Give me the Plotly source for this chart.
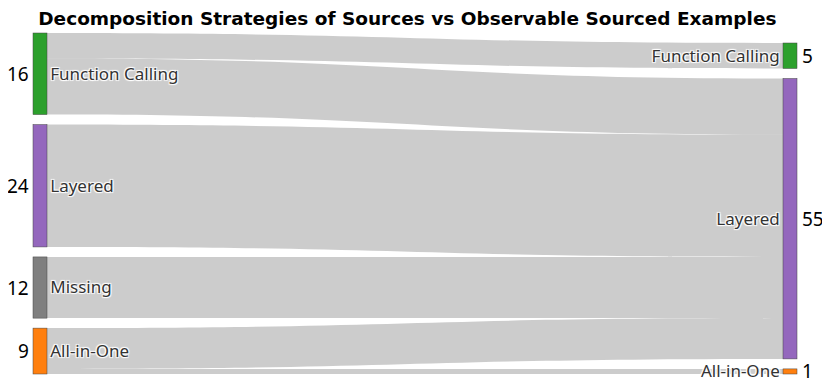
import plotly.graph_objects as go

sources = ["Function Calling", "Layered", "Missing", "All-in-One"]
targets = ["Function Calling", "Layered", "All-in-One"]
source_colors = ["#2ca02c", "#9467bd", "#7f7f7f", "#ff7f0e"]
target_colors = ["#2ca02c", "#9467bd", "#ff7f0e"]

link_source = ["Function Calling", "Function Calling", "Layered", "Missing", "All-in-One", "All-in-One"]
link_target = ["Function Calling", "Layered", "Layered", "Layered", "Layered", "All-in-One"]
link_value = [5, 11, 24, 12, 8, 1]

source_totals = [sum(v for s, v in zip(link_source, link_value) if s == n) for n in sources]
target_totals = [sum(v for t, v in zip(link_target, link_value) if t == n) for n in targets]

W, H = 830, 385
M = dict(l=25, r=41, t=25, b=19, autoexpand=False)
PAD = 10
plot_h = H - M["t"] - M["b"]
total = sum(link_value)
ky = (plot_h - (len(sources) - 1) * PAD) / total

labels = sources + targets
colors = source_colors + target_colors
idx_src = {n: i for i, n in enumerate(sources)}
idx_tgt = {n: i + len(sources) for i, n in enumerate(targets)}

fig = go.Figure(
    go.Sankey(
        arrangement="snap",
        node=dict(
            label=labels,
            color=colors,
            pad=PAD,
            thickness=14,
            line=dict(color="#444", width=0.5),
        ),
        link=dict(
            source=[idx_src[s] for s in link_source],
            target=[idx_tgt[t] for t in link_target],
            value=link_value,
            color="rgba(0,0,0,0.2)",
        ),
        textfont=dict(family="Noto Sans", size=17, color="#333"),
    )
)


def px_y(py):
    return 1 - (py - M["t"]) / plot_h


num_font = dict(family="Noto Sans", size=19, color="black")

# left totals, node column stacked from the top
cum = 0
for i, v in enumerate(source_totals):
    cy = M["t"] + cum * ky + i * PAD + v * ky / 2
    cum += v
    fig.add_annotation(x=0, y=px_y(cy), xref="paper", yref="paper", text=str(v),
                       showarrow=False, xanchor="right", yanchor="middle", xshift=-2, font=num_font)

# right totals, stacked from the bottom
cum = 0
for i, v in enumerate(reversed(target_totals)):
    cy = H - M["b"] - cum * ky - i * PAD - v * ky / 2
    cum += v
    fig.add_annotation(x=1, y=px_y(cy), xref="paper", yref="paper", text=str(v),
                       showarrow=False, xanchor="left", yanchor="middle", xshift=3, font=num_font)

fig.update_layout(
    title=dict(text="<b>Decomposition Strategies of Sources vs Observable Sourced Examples</b>",
               x=0.49, xref="paper", xanchor="center", y=0.99, yanchor="top",
               font=dict(family="DejaVu Sans", size=18.5, color="black")),
    width=W,
    height=H,
    margin=M,
    paper_bgcolor="white",
)

fig.write_html("out.html")
